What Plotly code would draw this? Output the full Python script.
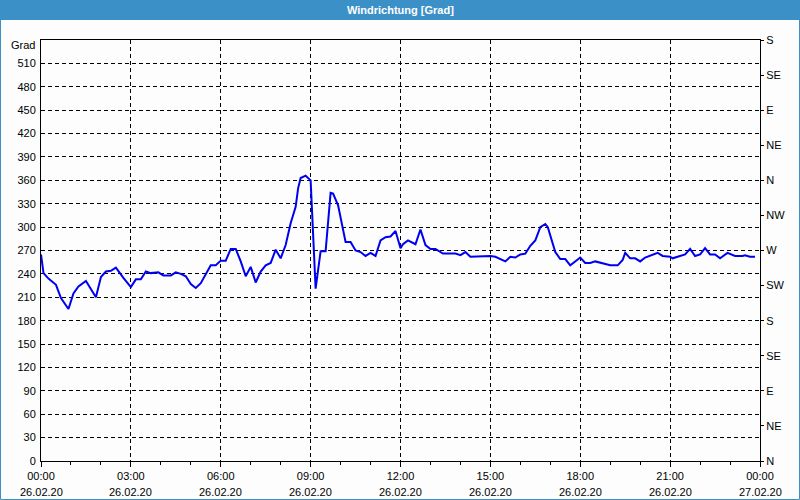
import plotly.graph_objects as go

# ---- data ----
times = [
    "00:00", "00:05", "00:15", "00:30", "00:40", "00:55", "01:05", "01:15", "01:30", "01:35",
    "01:50", "02:00", "02:10", "02:20", "02:30", "02:45", "03:00", "03:10", "03:20", "03:30",
    "03:40", "03:55", "04:05", "04:20", "04:30", "04:40", "04:50", "05:00", "05:10", "05:20",
    "05:30", "05:40", "05:50", "06:00", "06:10", "06:20", "06:30", "06:40", "06:50", "07:00",
    "07:10", "07:20", "07:30", "07:40", "07:50", "08:00", "08:10", "08:20", "08:30", "08:35",
    "08:40", "08:50", "09:00", "09:10", "09:20", "09:30", "09:40", "09:45", "09:55", "10:00",
    "10:10", "10:20", "10:30", "10:40", "10:50", "11:00", "11:10", "11:20", "11:30", "11:40",
    "11:50", "12:00", "12:05", "12:15", "12:30", "12:40", "12:50", "13:00", "13:10", "13:25",
    "13:50", "14:00", "14:10", "14:20", "15:00", "15:10", "15:30", "15:40", "15:50", "16:00",
    "16:10", "16:20", "16:30", "16:40", "16:50", "16:55", "17:10", "17:20", "17:30", "17:40",
    "17:50", "18:00", "18:10", "18:20", "18:30", "18:40", "18:50", "19:00", "19:15", "19:25",
    "19:30", "19:40", "19:50", "20:00", "20:10", "20:20", "20:35", "20:45", "21:00", "21:05",
    "21:15", "21:30", "21:40", "21:50", "22:00", "22:10", "22:20", "22:30", "22:40", "22:55",
    "23:10", "23:25", "23:30", "23:40", "23:50",
]
direction = [
    265, 241, 234, 226, 209, 195, 215, 224, 231, 226,
    210, 236, 243, 244, 248, 235, 223, 233, 233, 243,
    241, 242, 238, 238, 242, 240, 237, 227, 222, 228,
    239, 251, 251, 257, 257, 272, 272, 256, 237, 249,
    229, 243, 251, 254, 271, 260, 277, 305, 326, 350,
    363, 366, 360, 221, 269, 269, 344, 343, 328, 313,
    281, 281, 270, 268, 263, 267, 263, 283, 287, 288,
    295, 273, 278, 283, 278, 297, 277, 272, 272, 266,
    266, 264, 268, 262, 263, 262, 256, 262, 261, 265,
    266, 276, 283, 300, 304, 300, 268, 259, 259, 251,
    256, 261, 254, 254, 256, 254, 253, 251, 251, 258,
    267, 260, 260, 256, 261, 263, 267, 263, 262, 260,
    262, 265, 272, 263, 265, 273, 265, 265, 260, 267,
    263, 263, 264, 262, 262,
]
day = "2020-02-26"

x_tick_vals = ["2020-02-26 00:00", "2020-02-26 03:00", "2020-02-26 06:00", "2020-02-26 09:00",
               "2020-02-26 12:00", "2020-02-26 15:00", "2020-02-26 18:00", "2020-02-26 21:00",
               "2020-02-27 00:00"]
x_tick_time = ["00:00", "03:00", "06:00", "09:00", "12:00", "15:00", "18:00", "21:00", "00:00"]
x_tick_date = ["26.02.20", "26.02.20", "26.02.20", "26.02.20", "26.02.20", "26.02.20",
               "26.02.20", "26.02.20", "27.02.20"]
y_left_ticks = [0, 30, 60, 90, 120, 150, 180, 210, 240, 270, 300, 330, 360, 390, 420, 450, 480, 510]
y_right_vals = [0, 45, 90, 135, 180, 225, 270, 315, 360, 405, 450, 495, 540]
y_right_text = ["N", "NE", "E", "SE", "S", "SW", "W", "NW", "N", "NE", "E", "SE", "S"]

title_text = "Windrichtung [Grad]"
unit_text = "Grad"

# ---- figure ----
W, H = 800, 500
L, R, T, B = 41, 40, 40, 39
PW, PH = W - L - R, H - T - B
BLUE_BAR = "#3C90C8"
BG = "#FCFDFC"
FONT = "Liberation Sans"

xs = [f"{day} {t}" for t in times]

fig = go.Figure()
fig.add_trace(go.Scatter(x=xs, y=direction, mode="lines",
                         line=dict(color="#0000F0", width=2),
                         showlegend=False, hoverinfo="x+y"))
# invisible trace to carry the right-hand compass axis
fig.add_trace(go.Scatter(x=xs, y=direction, mode="lines", yaxis="y2",
                         line=dict(width=0), opacity=0,
                         showlegend=False, hoverinfo="skip"))

grid = dict(showgrid=True, gridcolor="black", gridwidth=1, griddash="4px,3px")

fig.update_layout(
    width=W, height=H,
    margin=dict(l=L, r=R, t=T, b=B, pad=0),
    paper_bgcolor=BG, plot_bgcolor=BG,
    font=dict(family=FONT, size=11, color="black"),
    xaxis=dict(
        type="date",
        range=["2020-02-26 00:00", "2020-02-27 00:00"],
        tickmode="array", tickvals=x_tick_vals, ticktext=x_tick_time,
        ticks="outside", ticklen=5, tickcolor="black", tickwidth=1,
        minor=dict(tickmode="linear", tick0="2020-02-26 00:00", dtick=3600000,
                   ticks="outside", ticklen=3, tickcolor="black", showgrid=False),
        showline=True, linecolor="black", linewidth=1, mirror=True,
        zeroline=False, fixedrange=True,
        **grid,
    ),
    yaxis=dict(
        range=[0, 540],
        tickmode="array", tickvals=y_left_ticks,
        ticks="", ticklabelstandoff=2,
        showline=True, linecolor="black", linewidth=1, mirror=True,
        zeroline=False,
        **grid,
    ),
    yaxis2=dict(
        range=[0, 540], overlaying="y", side="right",
        tickmode="array", tickvals=y_right_vals, ticktext=y_right_text,
        ticks="outside", ticklen=3, tickcolor="black",
        showline=True, linecolor="black", linewidth=1,
        showgrid=False, zeroline=False,
    ),
)

# date line below the time tick labels
for xv, dt in zip(x_tick_vals, x_tick_date):
    fig.add_annotation(x=xv, xref="x", y=-(492 - (H - B)) / PH, yref="paper",
                       text=dt, showarrow=False, xanchor="center", yanchor="middle",
                       font=dict(family=FONT, size=11, color="black"))

# unit label at top-left
fig.add_annotation(x=0, xref="paper", y=1 - 5 / PH, yref="paper", text=unit_text,
                   showarrow=False, xanchor="right", yanchor="middle", xshift=-4,
                   font=dict(family=FONT, size=11, color="black"))

# title bar
fig.add_shape(type="rect", xref="paper", yref="paper",
              x0=-L / PW, x1=1 + R / PW, y0=1 + (T - 20) / PH, y1=1 + T / PH,
              fillcolor=BLUE_BAR, line=dict(width=0), layer="below")
fig.add_annotation(x=0.5, xref="paper", y=1 + (T - 10) / PH, yref="paper",
                   text=f"<b>{title_text}</b>", showarrow=False,
                   xanchor="center", yanchor="middle",
                   font=dict(family=FONT, size=11, color="white"))
# thin frame around the whole chart
fig.add_shape(type="rect", xref="paper", yref="paper",
              x0=(-L + 0.5) / PW, x1=1 + (R - 0.5) / PW,
              y0=-(B - 0.5) / PH, y1=1 + (T - 0.5) / PH,
              line=dict(color=BLUE_BAR, width=1), fillcolor="rgba(0,0,0,0)")

fig.write_html("out.html")
